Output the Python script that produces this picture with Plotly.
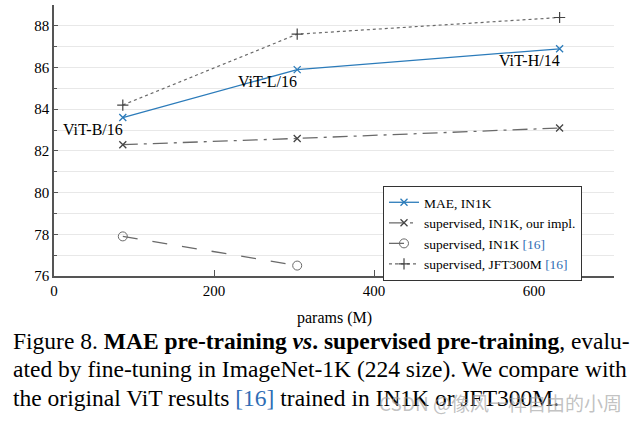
import plotly.graph_objects as go

params = [86, 304, 632]
mae_in1k = [83.6, 85.9, 86.9]
sup_ours = [82.3, 82.6, 83.1]
params_vit = [86, 304]
sup_in1k_vit = [77.9, 76.5]
sup_jft = [84.2, 87.6, 88.4]
model_names = ["ViT-B/16", "ViT-L/16", "ViT-H/14"]
x_ticks = [0, 200, 400, 600]
y_ticks = [76, 78, 80, 82, 84, 86, 88]

SERIF = "Liberation Serif, Times New Roman, serif"
BLUE = "#2b7bba"
GRAY = "#6a6a6a"
REF = "<span style='color:#2f6db5'>[16]</span>"

fig = go.Figure()
fig.add_trace(go.Scatter(x=params, y=mae_in1k, mode="lines+markers", name="MAE, IN1K",
                         line=dict(color=BLUE, width=1.3),
                         marker=dict(symbol="x-thin", size=7, line=dict(color=BLUE, width=1.3))))
fig.add_trace(go.Scatter(x=params, y=sup_ours, mode="lines+markers", name="supervised, IN1K, our impl.",
                         line=dict(color=GRAY, width=1.3, dash="longdashdot"),
                         marker=dict(symbol="x-thin", size=7, line=dict(color="#444", width=1.3))))
fig.add_trace(go.Scatter(x=params_vit, y=sup_in1k_vit, mode="lines+markers", name="supervised, IN1K " + REF,
                         line=dict(color=GRAY, width=1.3, dash="longdash"),
                         marker=dict(symbol="circle-open", size=9, color=GRAY, line=dict(width=1))))
fig.add_trace(go.Scatter(x=params, y=sup_jft, mode="lines+markers", name="supervised, JFT300M " + REF,
                         line=dict(color=GRAY, width=1.2, dash="dot"),
                         marker=dict(symbol="cross-thin", size=8, line=dict(color="#444", width=1.2))))

for xv, yv, name in zip(params, mae_in1k, model_names):
    fig.add_annotation(x=xv, y=yv, text=name, showarrow=False, xanchor="right", yanchor="top",
                       yshift=-1, xshift=2, font=dict(family=SERIF, size=16, color="black"))

def py(pix):
    return (276 - pix) / 271.0

def px(pix):
    return (pix - 54) / 560.0

fig.add_annotation(xref="paper", yref="paper", x=0.5, y=py(318), text="params (M)", showarrow=False,
                   xanchor="center", yanchor="middle", font=dict(family=SERIF, size=16, color="black"))

caption = [
    "Figure 8. <b>MAE pre-training <i>vs</i>. supervised pre-training</b>, evalu-",
    "ated by fine-tuning in ImageNet-1K (224 size). We compare with",
    "the original ViT results " + REF + " trained in IN1K or JFT300M.",
]
for i, line in enumerate(caption):
    fig.add_annotation(xref="paper", yref="paper", x=px(11), y=py(341 + i * 28.5), text=line,
                       showarrow=False, xanchor="left", yanchor="middle",
                       font=dict(family=SERIF, size=23.5, color="black"))

fig.add_annotation(xref="paper", yref="paper", x=px(624), y=py(402), text="CSDN @像风一样自由的小周",
                   showarrow=False, xanchor="right", yanchor="middle",
                   font=dict(family="Noto Sans CJK SC", size=19, color="rgba(160,160,160,0.65)"))

fig.update_layout(
    width=640, height=421,
    margin=dict(l=54, r=26, t=5, b=145),
    plot_bgcolor="white", paper_bgcolor="white",
    showlegend=True,
    legend=dict(x=px(383), y=py(186), xanchor="left", yanchor="top",
                bgcolor="white", bordercolor="#333", borderwidth=1,
                font=dict(family=SERIF, size=13.5, color="black"),
                tracegroupgap=0, itemwidth=30),
    font=dict(family=SERIF, size=15, color="black"),
)
fig.update_xaxes(range=[0, 700], tickvals=x_ticks, showgrid=False, showline=True,
                 linecolor="#555", linewidth=1.5, ticks="inside", ticklen=6, tickcolor="#555",
                 zeroline=False, tickfont=dict(family=SERIF, size=15))
fig.update_yaxes(range=[76, 89], tickvals=y_ticks, showgrid=True, gridcolor="#e8e8e8", gridwidth=1.3,
                 showline=True, linecolor="#555", linewidth=1.5, ticks="inside", ticklen=4, tickcolor="#555",
                 zeroline=False, tickfont=dict(family=SERIF, size=15),
                 minor=dict(dtick=1, showgrid=True, gridcolor="#e8e8e8", ticks="inside", ticklen=3, tickcolor="#555"))

fig.write_html("out.html", config={"displayModeBar": False},
               post_script="document.body.style.margin='0';")
